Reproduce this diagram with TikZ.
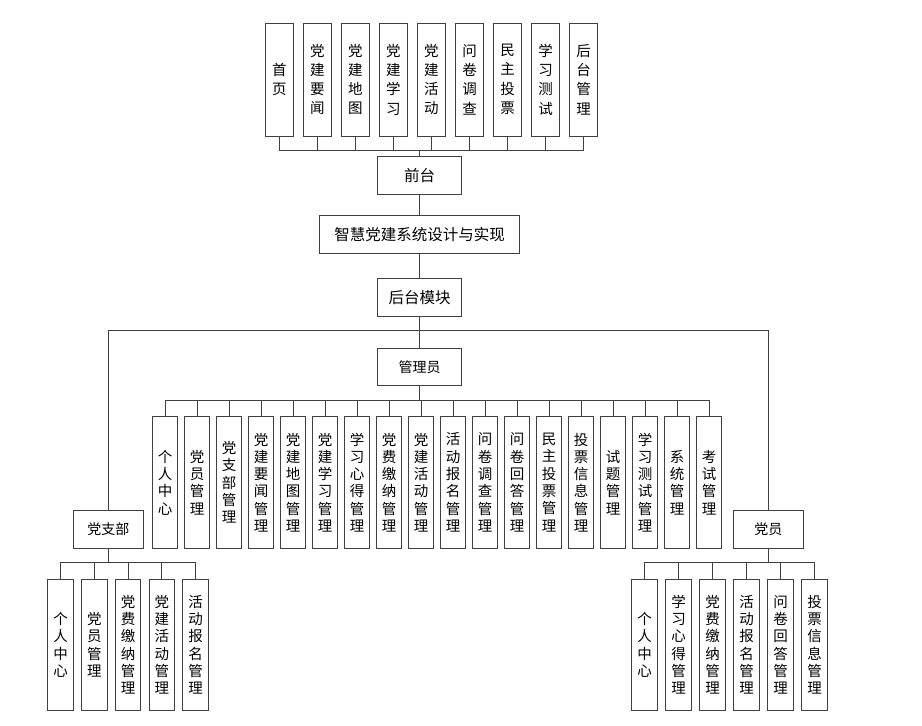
\documentclass[tikz,border=0pt]{standalone}
\usepackage{fontspec}
\newfontfamily\cjk{Noto Sans CJK SC}
\usepackage{xcolor}
\definecolor{LineGray}{RGB}{64,64,64}

\tikzset{
  box/.style={draw=LineGray, line width=1pt, inner sep=0pt, minimum height=37.6pt,
              font=\cjk\fontsize{15.5}{18}\selectfont},
  rolebox/.style={box, minimum width=70pt, font=\cjk\fontsize{14}{17}\selectfont},
  vbox/.style={draw=LineGray, line width=1pt, inner sep=0pt, align=center,
               minimum width=25pt, minimum height=131.5pt,
               font=\cjk\fontsize{14.5}{17.3}\selectfont},
  topbox/.style={vbox, minimum width=28.5pt, minimum height=113pt,
                 font=\cjk\fontsize{14.5}{19.3}\selectfont},
  link/.style={draw=LineGray, line width=0.9pt},
}

\begin{document}
\begin{tikzpicture}[x=1pt, y=-1pt]
  \useasboundingbox (0,0) rectangle (922,726);

  % front-end modules
  \foreach \txt [count=\i from 0] in {{首\\页},{党\\建\\要\\闻},{党\\建\\地\\图},{党\\建\\学\\习},
      {党\\建\\活\\动},{问\\卷\\调\\查},{民\\主\\投\\票},{学\\习\\测\\试},{后\\台\\管\\理}}
    \node[topbox] (top\i) at ({279.3+38.04*\i},79.5) {\txt};

  \node[box, minimum width=84.4pt] (qiantai) at (419.5,175.5) {前台};
  \node[box, minimum width=200.3pt] (title) at (419.5,234.2) {智慧党建系统设计与实现};
  \node[box, minimum width=84.4pt] (houtai) at (419.5,297.7) {后台模块};
  \node[rolebox, minimum width=84.4pt] (admin) at (419.5,367) {管理员};
  \node[rolebox] (branch) at (108.3,529.5) {党支部};
  \node[rolebox] (member) at (768.3,529.5) {党员};

  % administrator modules
  \foreach \txt [count=\i from 0] in {{个\\人\\中\\心},{党\\员\\管\\理},{党\\支\\部\\管\\理},
      {党\\建\\要\\闻\\管\\理},{党\\建\\地\\图\\管\\理},{党\\建\\学\\习\\管\\理},
      {学\\习\\心\\得\\管\\理},{党\\费\\缴\\纳\\管\\理},{党\\建\\活\\动\\管\\理},
      {活\\动\\报\\名\\管\\理},{问\\卷\\调\\查\\管\\理},{问\\卷\\回\\答\\管\\理},
      {民\\主\\投\\票\\管\\理},{投\\票\\信\\息\\管\\理},{试\\题\\管\\理},
      {学\\习\\测\\试\\管\\理},{系\\统\\管\\理},{考\\试\\管\\理}}
    \node[vbox] (adm\i) at ({165+32*\i},482.5) {\txt};

  % branch modules
  \foreach \txt [count=\i from 0] in {{个\\人\\中\\心},{党\\员\\管\\理},{党\\费\\缴\\纳\\管\\理},
      {党\\建\\活\\动\\管\\理},{活\\动\\报\\名\\管\\理}}
    \node[vbox, minimum width=25.7pt] (br\i) at ({60.5+33.8*\i},644.8) {\txt};

  % member modules
  \foreach \txt [count=\i from 0] in {{个\\人\\中\\心},{学\\习\\心\\得\\管\\理},{党\\费\\缴\\纳\\管\\理},
      {活\\动\\报\\名\\管\\理},{问\\卷\\回\\答\\管\\理},{投\\票\\信\\息\\管\\理}}
    \node[vbox, minimum width=26pt] (mb\i) at ({644.5+34*\i},644.8) {\txt};

  % connectors
  \coordinate (topbus) at (0,150);
  \coordinate (split) at (419.5,330.7);
  \coordinate (admbus) at (0,400);
  \coordinate (sidebus) at (0,562.3);

  \foreach \i in {0,...,8}
    \draw[link] (top\i.south) -- (top\i.south |- topbus);
  \draw[link] (top0.south |- topbus) -- (top8.south |- topbus);
  \draw[link] (qiantai.north |- topbus) -- (qiantai.north);
  \draw[link] (qiantai.south) -- (title.north);
  \draw[link] (title.south) -- (houtai.north);
  \draw[link] (houtai.south) -- (admin.north);
  \draw[link] (branch.north) |- (split) -| (member.north);

  \foreach \i in {0,...,17}
    \draw[link] (adm\i.north) -- (adm\i.north |- admbus);
  \draw[link] (adm0.north |- admbus) -- (adm17.north |- admbus);
  \draw[link] (admin.south) -- (admin.south |- admbus);

  \foreach \i in {0,...,4}
    \draw[link] (br\i.north) -- (br\i.north |- sidebus);
  \draw[link] (br0.north |- sidebus) -- (br4.north |- sidebus);
  \draw[link] (branch.south) -- (branch.south |- sidebus);

  \foreach \i in {0,...,5}
    \draw[link] (mb\i.north) -- (mb\i.north |- sidebus);
  \draw[link] (mb0.north |- sidebus) -- (mb5.north |- sidebus);
  \draw[link] (member.south) -- (member.south |- sidebus);
\end{tikzpicture}
\end{document}
